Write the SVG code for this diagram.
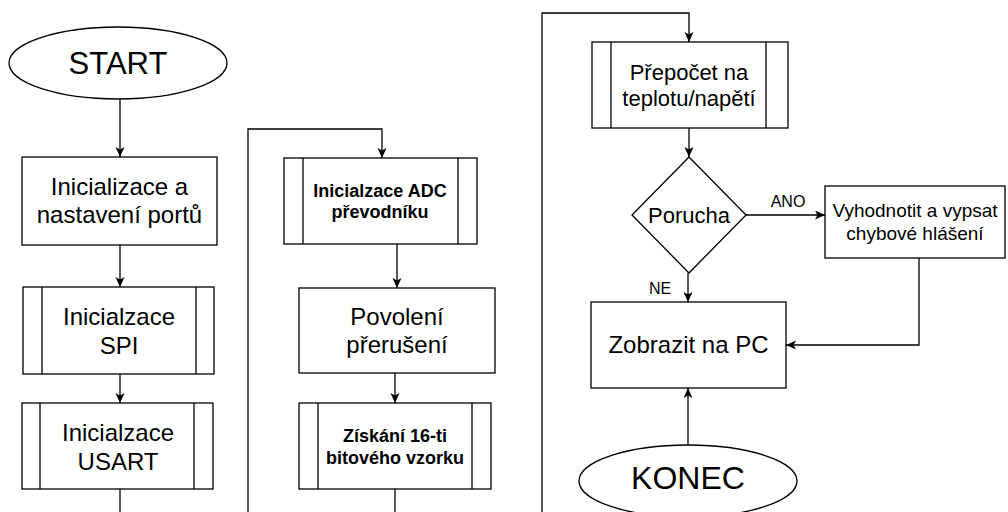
<svg xmlns="http://www.w3.org/2000/svg" width="1008" height="512" viewBox="0 0 1008 512">
  <defs>
    <marker id="arrow" markerUnits="userSpaceOnUse" markerWidth="11" markerHeight="10" refX="10" refY="4.5" orient="auto">
      <path d="M0,0 L10,4.5 L0,9 L2.5,4.5 Z" fill="#000"/>
    </marker>
    <style>
      .shape { fill: #fff; stroke: #000; stroke-width: 1.3; }
      .inner { stroke: #000; stroke-width: 1.3; fill: none; }
      .wire { fill: none; stroke: #000; stroke-width: 1.3; }
      .arr { marker-end: url(#arrow); }
      text { font-family: "Liberation Sans", Arial, sans-serif; fill: #000; text-anchor: middle; }
      .t24 { font-size: 24px; }
      .t22 { font-size: 22px; }
      .t19 { font-size: 19px; }
      .bold { font-size: 18px; font-weight: bold; }
      .lbl { font-size: 16px; }
    </style>
  </defs>
  <rect width="1008" height="512" fill="#fff"/>

  <!-- connectors -->
  <g id="connectors">
    <line class="wire arr" x1="120" y1="99" x2="120" y2="157"/>
    <line class="wire arr" x1="120" y1="245" x2="120" y2="287"/>
    <line class="wire arr" x1="120" y1="374" x2="120" y2="403"/>
    <line class="wire" x1="120" y1="489" x2="120" y2="512"/>

    <path class="wire arr" d="M248,512 V129 H382 V158"/>
    <line class="wire arr" x1="397" y1="244" x2="397" y2="288"/>
    <line class="wire arr" x1="395" y1="373" x2="395" y2="403"/>
    <line class="wire" x1="395" y1="489" x2="395" y2="512"/>

    <path class="wire arr" d="M542,512 V13 H689 V42"/>
    <line class="wire arr" x1="689" y1="128" x2="689" y2="157"/>
    <line class="wire arr" x1="746" y1="215" x2="825" y2="215"/>
    <text class="lbl" x="788" y="207">ANO</text>
    <line class="wire arr" x1="688" y1="273" x2="688" y2="302"/>
    <text class="lbl" x="660" y="294">NE</text>
    <path class="wire arr" d="M919,258 V345 H786"/>
    <line class="wire arr" x1="688" y1="445" x2="688" y2="388"/>
  </g>

  <!-- left column -->
  <g id="start">
    <ellipse class="shape" cx="118" cy="63" rx="109" ry="36"/>
    <text x="118" y="74" style="font-size:31px">START</text>
  </g>
  <g id="init-ports">
    <rect class="shape" x="22" y="157" width="195" height="88"/>
    <text class="t24" x="119.5" y="195">Inicializace a</text>
    <text class="t24" x="119.5" y="223">nastavení portů</text>
  </g>
  <g id="init-spi">
    <rect class="shape" x="23" y="287" width="191" height="87"/>
    <line class="inner" x1="42" y1="287" x2="42" y2="374"/>
    <line class="inner" x1="196" y1="287" x2="196" y2="374"/>
    <text class="t24" x="119" y="325">Inicialzace</text>
    <text class="t24" x="119" y="354">SPI</text>
  </g>
  <g id="init-usart">
    <rect class="shape" x="22" y="403" width="191" height="86"/>
    <line class="inner" x1="40" y1="403" x2="40" y2="489"/>
    <line class="inner" x1="194" y1="403" x2="194" y2="489"/>
    <text class="t24" x="118" y="441">Inicialzace</text>
    <text class="t24" x="118" y="470">USART</text>
  </g>

  <!-- middle column -->
  <g id="init-adc">
    <rect class="shape" x="284" y="158" width="193" height="86"/>
    <line class="inner" x1="303" y1="158" x2="303" y2="244"/>
    <line class="inner" x1="458" y1="158" x2="458" y2="244"/>
    <text class="bold" x="380" y="197">Inicialzace ADC</text>
    <text class="bold" x="380" y="218">převodníku</text>
  </g>
  <g id="enable-irq">
    <rect class="shape" x="299" y="288" width="196" height="85"/>
    <text class="t24" x="397" y="325">Povolení</text>
    <text class="t24" x="397" y="353">přerušení</text>
  </g>
  <g id="get-sample">
    <rect class="shape" x="299" y="403" width="192" height="86"/>
    <line class="inner" x1="318" y1="403" x2="318" y2="489"/>
    <line class="inner" x1="472" y1="403" x2="472" y2="489"/>
    <text class="bold" x="395" y="442">Získání 16-ti</text>
    <text class="bold" x="395" y="464">bitového vzorku</text>
  </g>

  <!-- right column -->
  <g id="convert">
    <rect class="shape" x="592" y="42" width="196" height="86"/>
    <line class="inner" x1="611" y1="42" x2="611" y2="128"/>
    <line class="inner" x1="766" y1="42" x2="766" y2="128"/>
    <text class="t22" x="689" y="80">Přepočet na</text>
    <text class="t22" x="689" y="106">teplotu/napětí</text>
  </g>
  <g id="fault">
    <polygon class="shape" points="689,157 746,215 689,273 632,215"/>
    <text class="t22" x="689" y="223">Porucha</text>
  </g>
  <g id="report-error">
    <rect class="shape" x="825" y="186" width="180" height="72"/>
    <text class="t19" x="915" y="217">Vyhodnotit a vypsat</text>
    <text class="t19" x="915" y="240">chybové hlášení</text>
  </g>
  <g id="show-pc">
    <rect class="shape" x="591" y="302" width="195" height="86"/>
    <text class="t24" x="688.5" y="353">Zobrazit na PC</text>
  </g>
  <g id="end">
    <ellipse class="shape" cx="688" cy="481" rx="109" ry="36"/>
    <text x="688" y="489" style="font-size:32px">KONEC</text>
  </g>
</svg>
